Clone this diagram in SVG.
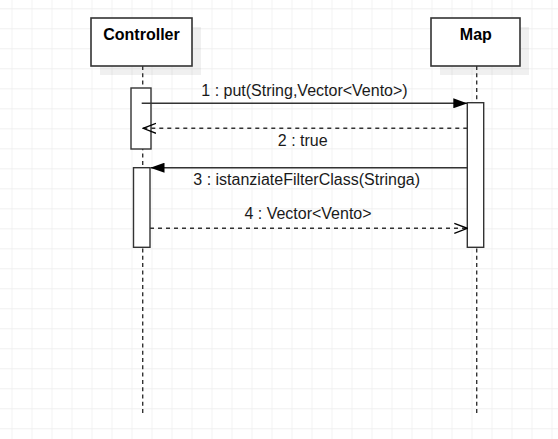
<svg xmlns="http://www.w3.org/2000/svg" width="558" height="439" viewBox="0 0 558 439">
  <defs>
    <pattern id="grid" x="11.5" y="8.3" width="20" height="20" patternUnits="userSpaceOnUse">
      <path d="M0 0H20M0 0V20" fill="none" stroke="#ececec" stroke-width="1.3"/>
    </pattern>
    <marker id="filled" viewBox="0 0 14 10" refX="14" refY="5" markerWidth="14" markerHeight="10" markerUnits="userSpaceOnUse" orient="auto">
      <path d="M0 0L14 5L0 10Z" fill="#000"/>
    </marker>
    <marker id="open" viewBox="0 0 14 12" refX="13" refY="6" markerWidth="14" markerHeight="12" markerUnits="userSpaceOnUse" orient="auto">
      <path d="M0 1L13 6L0 11" fill="none" stroke="#000" stroke-width="1.3"/>
    </marker>
  </defs>
  <style>
    .box { fill: #fff; stroke: #333; stroke-width: 1.6; }
    .shadow { fill: #000; fill-opacity: 0.06; }
    .act { fill: #fff; stroke: #333; stroke-width: 1.4; }
    .life { stroke: #333; stroke-width: 1.4; stroke-dasharray: 4 3.3; fill: none; }
    .msg { stroke: #333; stroke-width: 1.4; fill: none; }
    .ret { stroke: #333; stroke-width: 1.4; fill: none; stroke-dasharray: 4 4; }
    .title { font-family: "Liberation Sans", Arial, sans-serif; font-size: 16px; font-weight: bold; fill: #000; text-anchor: middle; }
    .lbl { font-family: "Liberation Sans", Arial, sans-serif; font-size: 16px; fill: #1a1a1a; text-anchor: middle; }
  </style>
  <rect width="558" height="439" fill="#fff"/>
  <rect width="558" height="439" fill="url(#grid)"/>

  <g id="controller">
    <rect class="shadow" x="100" y="27" width="101" height="48"/>
    <line class="life" x1="142.7" y1="66" x2="142.7" y2="416"/>
    <rect class="box" x="91" y="18" width="101" height="48"/>
    <text class="title" x="141.5" y="40">Controller</text>
  </g>

  <g id="map">
    <rect class="shadow" x="440" y="27" width="89" height="48"/>
    <line class="life" x1="476.7" y1="66" x2="476.7" y2="416"/>
    <rect class="box" x="431" y="18" width="89" height="48"/>
    <text class="title" x="475.8" y="40">Map</text>
  </g>

  <g id="controller-activation-1">
    <rect class="act" x="131" y="88" width="20" height="61"/>
  </g>
  <g id="controller-activation-2">
    <rect class="act" x="133.5" y="167.7" width="16.5" height="79.6"/>
  </g>
  <g id="map-activation">
    <rect class="act" x="467.3" y="102.7" width="16.4" height="144.6"/>
  </g>

  <g id="connectors">
    <line class="msg" x1="141.7" y1="103.3" x2="467.3" y2="103.3" marker-end="url(#filled)"/>
    <text class="lbl" x="304.5" y="96">1 : put(String,Vector&lt;Vento&gt;)</text>

    <line class="ret" x1="467.3" y1="128.3" x2="143" y2="128.3" marker-end="url(#open)"/>
    <text class="lbl" x="302.7" y="146">2 : true</text>

    <line class="msg" x1="467.3" y1="167.7" x2="150.5" y2="167.7" marker-end="url(#filled)"/>
    <text class="lbl" x="306.7" y="185">3 : istanziateFilterClass(Stringa)</text>

    <line class="ret" x1="150" y1="228.3" x2="467.3" y2="228.3" marker-end="url(#open)"/>
    <text class="lbl" x="308" y="219.3">4 : Vector&lt;Vento&gt;</text>
  </g>
</svg>
